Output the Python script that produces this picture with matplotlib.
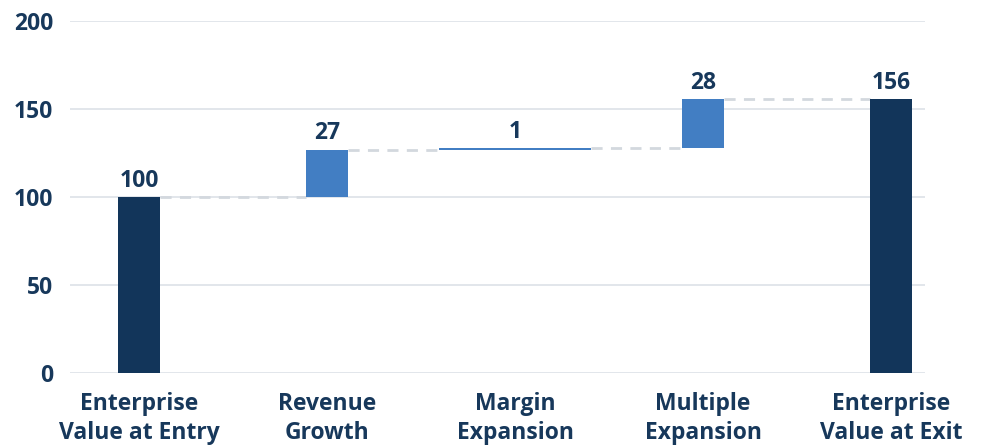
import matplotlib.pyplot as plt

# Waterfall data
categories = ["Enterprise\nValue at Entry", "Revenue\nGrowth", "Margin\nExpansion",
              "Multiple\nExpansion", "Enterprise\nValue at Exit"]
entry = 100
steps = [26.8, 1.0, 27.9]
value_labels = ["100", "27", "1", "28", "156"]

navy = "#12355a"
blue = "#427ec3"
text_col = "#17385b"
grid_col = "#dde2e8"
dash_col = "#d3d8de"

plt.rcParams['font.family'] = ['Open Sans', 'DejaVu Sans']

fig = plt.figure(figsize=(9.86, 4.48), dpi=100)
ax = fig.add_axes([70 / 986, 1 - 373 / 448, 855 / 986, 352 / 448])

exit_val = entry + sum(steps)
bottoms = [0]
heights = [entry]
running = entry
for s in steps:
    bottoms.append(running)
    heights.append(s)
    running += s
bottoms.append(0)
heights.append(exit_val)

colors = [navy, blue, blue, blue, navy]
widths = [0.22, 0.22, 0.81, 0.22, 0.22]
xs = list(range(len(categories)))

ax.bar(xs, heights, bottom=bottoms, width=widths, color=colors, zorder=3)

# connectors
for i in range(len(xs) - 1):
    level = bottoms[i] + heights[i]
    x0 = xs[i] + widths[i] / 2
    x1 = xs[i + 1] - widths[i + 1] / 2
    ax.plot([x0, x1], [level, level], color=dash_col, lw=2, ls=(0, (4, 3)), zorder=2)

for i in xs:
    top = bottoms[i] + heights[i]
    ax.text(xs[i], top + 2.5, value_labels[i], ha="center", va="bottom",
            fontsize=16.5, fontweight="bold", color=text_col)

ax.set_ylim(0, 200)
ax.set_xlim(-0.367, 4.18)
ax.set_yticks([0, 50, 100, 150, 200])
ax.yaxis.grid(True, color=grid_col, lw=1.2, zorder=0)
ax.set_xticks(xs)
ax.set_xticklabels(categories, linespacing=1.25)
for s in ax.spines.values():
    s.set_visible(False)
ax.tick_params(axis="both", length=0, labelsize=16.5, labelcolor=text_col)
ax.tick_params(axis="y", pad=12)
ax.tick_params(axis="x", pad=14)
for lbl in ax.get_xticklabels() + ax.get_yticklabels():
    lbl.set_fontweight("bold")

plt.savefig("out.png", dpi=100)
